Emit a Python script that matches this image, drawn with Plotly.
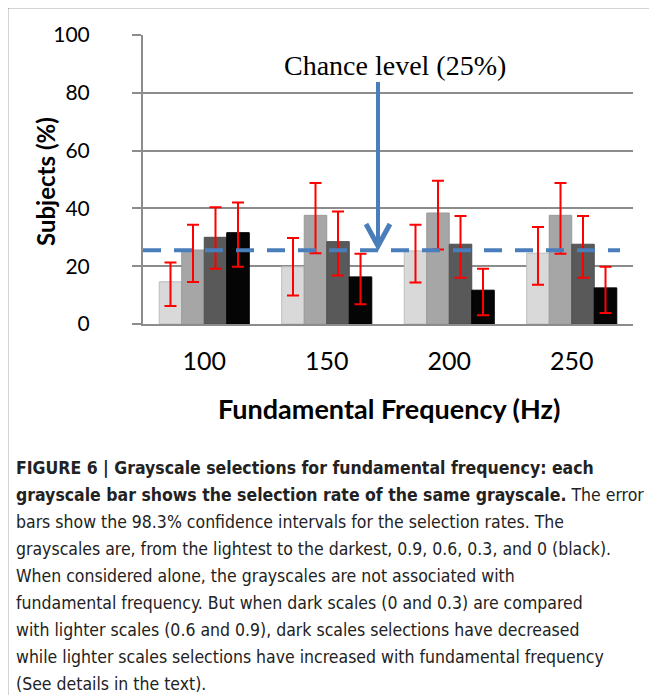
import plotly.graph_objects as go

# data (percent of subjects)
freqs = ["100", "150", "200", "250"]
shade_names = ["0.9", "0.6", "0.3", "0"]

light = [14.6, 19.8, 25.3, 24.5]
light_hi = [21.3, 29.8, 34.3, 33.6]
light_lo = [6.2, 9.9, 14.4, 13.6]

mid = [25.6, 37.6, 38.4, 37.6]
mid_hi = [34.3, 48.8, 49.6, 48.8]
mid_lo = [14.5, 24.5, 25.8, 24.3]

dark = [30.0, 28.5, 27.6, 27.6]
dark_hi = [40.4, 38.9, 37.4, 37.4]
dark_lo = [19.1, 16.8, 16.0, 16.0]

black = [31.6, 16.3, 11.7, 12.5]
black_hi = [42.0, 24.3, 19.1, 19.8]
black_lo = [19.8, 6.8, 3.0, 3.8]

chance = 25.5

caption_lines = [
    "<b>FIGURE 6 | Grayscale selections for fundamental frequency: each</b>",
    "<b>grayscale bar shows the selection rate of the same grayscale.</b> The error",
    "bars show the 98.3% confidence intervals for the selection rates. The",
    "grayscales are, from the lightest to the darkest, 0.9, 0.6, 0.3, and 0 (black).",
    "When considered alone, the grayscales are not associated with",
    "fundamental frequency. But when dark scales (0 and 0.3) are compared",
    "with lighter scales (0.6 and 0.9), dark scales selections have decreased",
    "while lighter scales selections have increased with fundamental frequency",
    "(See details in the text).",
]

# the page has an 8px body margin, so the figure is 8px smaller than the window
# plot area on screen: x 143..633, y 35..324
def px_x(p):
    return (p - 143) / 490

def px_y(p):
    return (324 - p) / 289

series = [
    (light, light_hi, light_lo, "#D9D9D9", "#BDBDBD"),
    (mid, mid_hi, mid_lo, "#A6A6A6", "#9A9A9A"),
    (dark, dark_hi, dark_lo, "#595959", "#4F4F4F"),
    (black, black_hi, black_lo, "#050505", "#000000"),
]

fig = go.Figure()
for name, (vals, hi, lo, col, edge) in zip(shade_names, series):
    fig.add_trace(go.Bar(
        name=name, x=freqs, y=vals,
        marker=dict(color=col, line=dict(color=edge, width=1)),
        error_y=dict(type="data", symmetric=False,
                     array=[h - v for h, v in zip(hi, vals)],
                     arrayminus=[v - l for v, l in zip(vals, lo)],
                     color="#FF0000", thickness=2, width=6),
    ))

grid = "#8C8C8C"
fig.update_layout(
    width=649, height=687,
    margin=dict(l=135, r=24, t=27, b=371),
    paper_bgcolor="white", plot_bgcolor="white",
    barmode="group", bargap=0.265, bargroupgap=0,
    showlegend=False,
    font=dict(family="Lato", color="black"),
    xaxis=dict(type="category", range=[-0.5, 3.5], showline=True,
               linecolor=grid, linewidth=2, ticks="",
               tickfont=dict(size=25), ticklabelstandoff=14),
    yaxis=dict(range=[0, 100], dtick=20, showgrid=True, gridcolor=grid,
               gridwidth=2, zeroline=False, showline=True, linecolor=grid,
               linewidth=2, ticks="outside", ticklen=9, tickwidth=2,
               tickcolor=grid, tickfont=dict(size=21), ticklabelstandoff=38),
)

# chance level dashed line
fig.add_shape(type="line", xref="paper", yref="y", x0=0, x1=px_x(620),
              y0=chance, y1=chance, layer="above",
              line=dict(color="#4A7EBB", width=4, dash="18px,13px"))

# arrow pointing to chance level
ax = px_x(378)
fig.add_shape(type="line", xref="paper", yref="paper", x0=ax, x1=ax,
              y0=px_y(82), y1=px_y(246),
              line=dict(color="#4A7EBB", width=4))
fig.add_shape(type="path", xref="paper", yref="paper",
              path="M %f,%f L %f,%f L %f,%f" % (px_x(366), px_y(224), ax, px_y(246),
                                               px_x(390), px_y(224)),
              line=dict(color="#4A7EBB", width=5))

fig.add_annotation(text="Chance level (25%)", xref="paper", yref="paper",
                   x=px_x(395), y=px_y(66), xanchor="center", yanchor="middle",
                   showarrow=False,
                   font=dict(family="Liberation Serif", size=28, color="black"))

# axis titles
fig.add_annotation(text="<b>Subjects (%)</b>", xref="paper", yref="paper",
                   x=px_x(45), y=px_y(182), xanchor="center", yanchor="middle",
                   textangle=-90, showarrow=False,
                   font=dict(family="Lato", size=24, color="black"))
fig.add_annotation(text="<b>Fundamental Frequency (Hz)</b>", xref="paper", yref="paper",
                   x=px_x(389), y=px_y(408), xanchor="center", yanchor="middle",
                   showarrow=False,
                   font=dict(family="Lato", size=27, color="black"))

# frame around figure
fig.add_shape(type="line", xref="paper", yref="paper", x0=px_x(7), x1=px_x(660),
              y0=px_y(7.5), y1=px_y(7.5), line=dict(color="#555555", width=1.5))
fig.add_shape(type="line", xref="paper", yref="paper", x0=px_x(7.5), x1=px_x(7.5),
              y0=px_y(7), y1=px_y(700), line=dict(color="#555555", width=1.5))

# caption
for i, line in enumerate(caption_lines):
    fig.add_annotation(text=line, xref="paper", yref="paper",
                       x=px_x(14), y=px_y(468 + 27 * i), xanchor="left",
                       yanchor="middle", showarrow=False,
                       font=dict(family="DejaVu Sans Condensed, Roboto Condensed, Roboto",
                                 size=17.5, color="#222222"))

fig.write_html("out.html")
